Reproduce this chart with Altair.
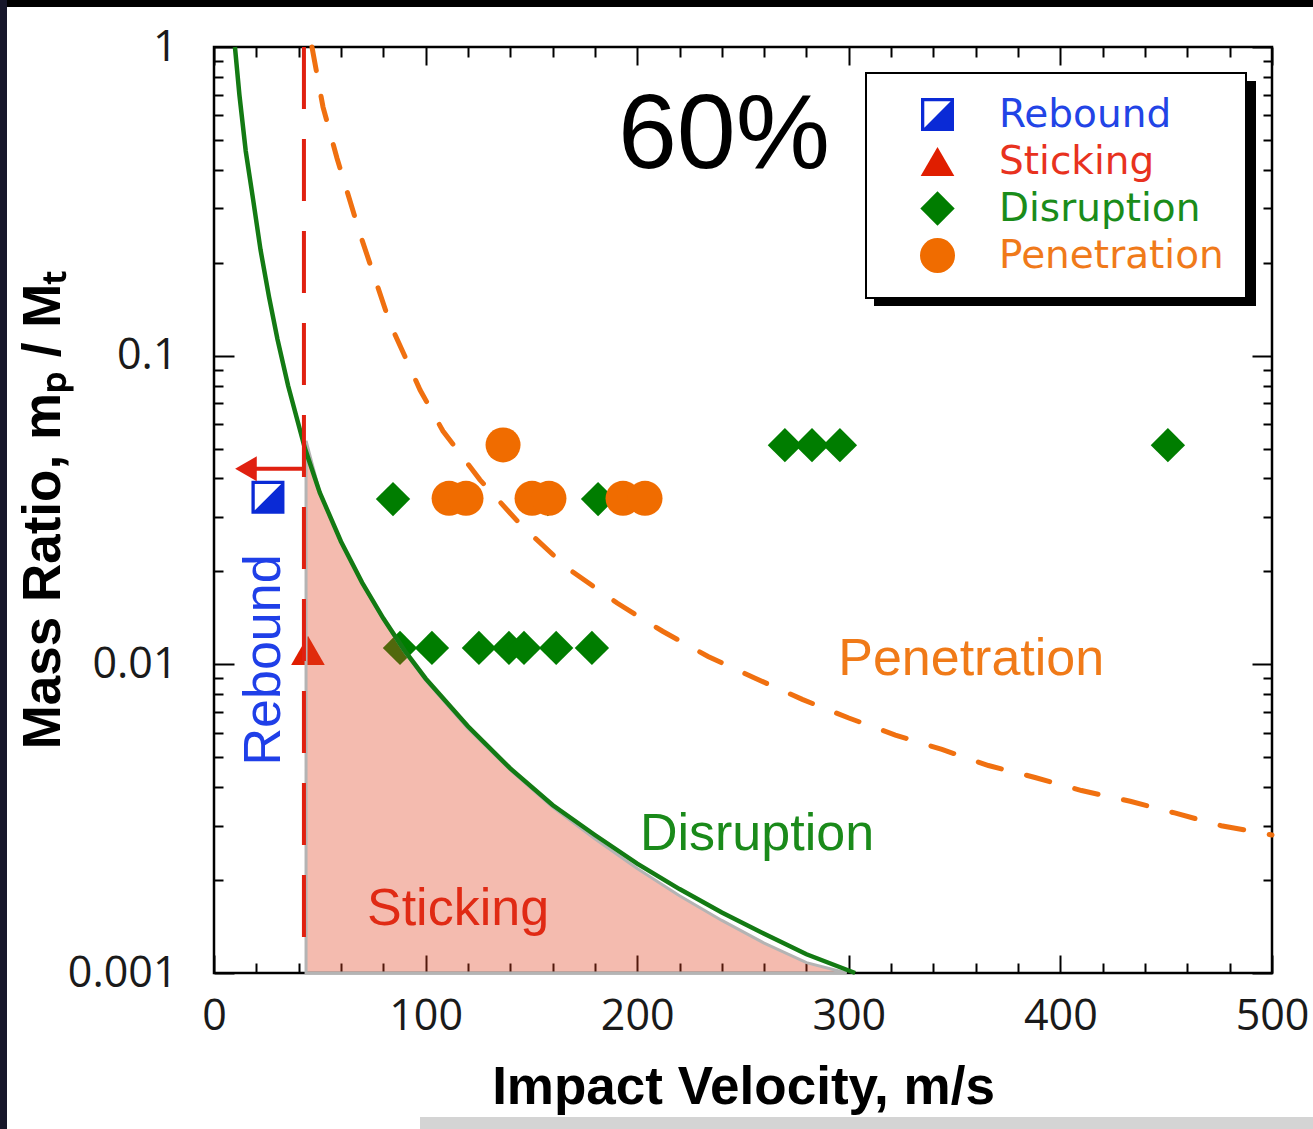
import altair as alt
import pandas as pd

# ---------------- data ----------------
types = ["Rebound", "Sticking", "Disruption", "Penetration"]

rebound_v = [25.5]
rebound_m = [0.0348]
sticking_v = [44.4]
sticking_m = [0.0111]
disruption_v = [87.9, 103.0, 125.2, 139.4, 146.5, 161.7, 178.6,
                84.6, 157.8, 181.5,
                269.8, 282.6, 295.8, 450.8]
disruption_m = [0.0113, 0.0113, 0.0113, 0.0113, 0.0113, 0.0113, 0.0113,
                0.0343, 0.0343, 0.0343,
                0.0513, 0.0513, 0.0513, 0.0513]
penetration_v = [111.1, 119.1, 150.3, 158.3, 193.3, 203.7, 136.6]
penetration_m = [0.0345, 0.0345, 0.0345, 0.0345, 0.0345, 0.0345, 0.0514]

# disruption threshold curve (solid green)
disr_curve_v = [9.9, 12, 15, 18.5, 22, 26, 30, 35, 43, 50, 60, 70, 80, 90, 100,
                120, 140, 160, 180, 200, 220, 240, 260, 280, 303]
disr_curve_m = [1.0, 0.70, 0.46, 0.32, 0.22, 0.155, 0.113, 0.080, 0.050, 0.036,
                0.025, 0.0184, 0.0141, 0.0111, 0.0090, 0.0063, 0.0046, 0.0035,
                0.0028, 0.00226, 0.00187, 0.00157, 0.00134, 0.00115, 0.0010]

# sticking region (shaded)
stick_v = [43.5, 50, 60, 70, 80, 90, 100, 120, 140, 160, 180, 200, 220, 240,
           260, 280, 299]
stick_m = [0.053, 0.036, 0.025, 0.0183, 0.0140, 0.0110, 0.0089, 0.0062, 0.00455,
           0.00345, 0.00272, 0.00218, 0.00178, 0.00148, 0.00125, 0.00108, 0.0010]

# penetration threshold curve (dashed orange)
pen_curve_v = [46.3, 51.5, 58.1, 69.0, 83.2, 97.4, 108.2, 125.7, 145, 167, 190.5,
               212, 233.5, 256, 278, 300, 322, 344, 366, 388, 410, 433, 454, 476, 500]
pen_curve_m = [1.0, 0.64, 0.437, 0.248, 0.127, 0.0774, 0.057, 0.0396, 0.0283, 0.0205,
               0.0158, 0.0128, 0.0106, 0.0090, 0.0077, 0.0067, 0.0059, 0.0053,
               0.0047, 0.0043, 0.0039, 0.0036, 0.0033, 0.0030, 0.0028]

# rebound limit (vertical dashed red) and arrow
rebound_limit_v = [42.5, 42.5]
rebound_limit_m = [1.0, 0.00121]
arrow_v = [42.5]
arrow_v2 = [17.0]
arrow_m = [0.043]
arrow_head_v = [15.1]

x_ticks = [0, 20, 40, 60, 80, 100, 120, 140, 160, 180, 200, 220, 240, 260, 280,
           300, 320, 340, 360, 380, 400, 420, 440, 460, 480, 500]
y_ticks = [0.001, 0.002, 0.003, 0.004, 0.005, 0.006, 0.007, 0.008, 0.009,
           0.01, 0.02, 0.03, 0.04, 0.05, 0.06, 0.07, 0.08, 0.09,
           0.1, 0.2, 0.3, 0.4, 0.5, 0.6, 0.7, 0.8, 0.9, 1]

# ---------------- styling ----------------
marker_colors = ["#0a2ad6", "#e01e00", "#007d00", "#f06c00"]
half_square = ("M -1 -1 L 1 -1 L 1 1 L -1 1 Z "
               "M -0.8 -0.8 L -0.8 0.8 L 0.8 0.8 L 0.8 -0.8 Z "
               "M 0.8 -0.8 L 0.8 0.8 L -0.8 0.8 Z")
marker_shapes = [half_square, "triangle-up", "diamond", "circle"]
marker_sizes = [1089, 1225, 1600, 1200]

W, H = 1058, 926
xscale = alt.Scale(domain=[0, 500], nice=False, zero=False)
yscale = alt.Scale(type="log", domain=[0.001, 1], nice=False)

major_y = "(datum.value == 1 || datum.value == 0.1 || datum.value == 0.01 || datum.value == 0.001)"


def X(axis=None, field="v"):
    return alt.X(f"{field}:Q", scale=xscale, axis=axis)


def Y(axis=None, field="m"):
    return alt.Y(f"{field}:Q", scale=yscale, axis=axis)


# ---------------- tables ----------------
pts = pd.DataFrame({
    "v": rebound_v + sticking_v + disruption_v + penetration_v,
    "m": rebound_m + sticking_m + disruption_m + penetration_m,
    "type": ["Rebound"] * len(rebound_v) + ["Sticking"] * len(sticking_v)
    + ["Disruption"] * len(disruption_v) + ["Penetration"] * len(penetration_v),
})
pts["order"] = range(len(pts))

disr_df = pd.DataFrame({"v": disr_curve_v, "m": disr_curve_m})
stick_df = pd.DataFrame({"v": stick_v, "m": stick_m, "m0": [0.001] * len(stick_v)})
pen_df = pd.DataFrame({"v": pen_curve_v, "m": pen_curve_m})
lim_df = pd.DataFrame({"v": rebound_limit_v, "m": rebound_limit_m})
arrow_df = pd.DataFrame({"v": arrow_v, "v2": arrow_v2, "m": arrow_m})
head_df = pd.DataFrame({"v": arrow_head_v, "m": arrow_m})

x_axis = alt.Axis(
    orient="bottom", values=x_ticks,
    labelExpr="datum.value % 100 === 0 ? format(datum.value, 'd') : ''",
    tickSize={"expr": "datum.value % 100 === 0 ? -18 : -10"},
    labelPadding=40, labelFlush=False, labelOverlap=False,
    title="Impact Velocity, m/s", titleY=130, titleBaseline="alphabetic",
)
y_axis = alt.Axis(
    orient="left", values=y_ticks,
    labelExpr=f"{major_y} ? (datum.value + '') : ''",
    tickSize={"expr": f"{major_y} ? -20 : -9"},
    labelPadding=57, labelFlush=False, labelOverlap=False,
    title="Mass Ratio, m\u209a / M\u209c", titleX=-155, titleBaseline="alphabetic",
)
x_axis_top = alt.Axis(
    orient="top", values=x_ticks, labels=False, title=None,
    tickSize={"expr": "datum.value % 100 === 0 ? -18 : -10"},
)
y_axis_right = alt.Axis(
    orient="right", values=y_ticks, labels=False, title=None,
    tickSize={"expr": f"{major_y} ? -20 : -9"},
)

legend = alt.Legend(
    title=None, orient="none", legendX=652, legendY=26,
    padding=22, symbolOffset=30, labelOffset=42, rowPadding=7, labelLimit=500,
    fillColor="white", strokeColor="black",
    labelFont="DejaVu Sans", labelFontSize=39,
    labelColor={"expr": "datum.label === 'Rebound' ? '#2244e6' : datum.label === 'Sticking' ? '#e8321e' : datum.label === 'Disruption' ? '#1a8c1a' : '#f07a1a'"},
    symbolStrokeWidth=0,
)

# ---------------- layers ----------------
one = pd.DataFrame({"k": [0]})
# screenshot frame decorations (outside the plot area)
top_band = alt.Chart(one).mark_rect(color="black").encode(
    x=alt.value(-214), x2=alt.value(1099), y=alt.value(-47), y2=alt.value(-40))
left_band = alt.Chart(one).mark_rect(color="#17172a").encode(
    x=alt.value(-214), x2=alt.value(-207), y=alt.value(-47), y2=alt.value(1082))
bottom_band = alt.Chart(one).mark_rect(color="#d4d4d4").encode(
    x=alt.value(206), x2=alt.value(1099), y=alt.value(1070), y2=alt.value(1082))

shadow = alt.Chart(one).mark_rect(color="black").encode(
    x=alt.value(660), x2=alt.value(1042), y=alt.value(34), y2=alt.value(259)
)

points = alt.Chart(pts).mark_point(filled=True, opacity=1, strokeWidth=0).encode(
    x=X(x_axis), y=Y(y_axis),
    color=alt.Color("type:N", scale=alt.Scale(domain=types, range=marker_colors), legend=legend),
    shape=alt.Shape("type:N", scale=alt.Scale(domain=types, range=marker_shapes), legend=legend),
    size=alt.Size("type:N", scale=alt.Scale(domain=types, range=marker_sizes), legend=legend),
    order="order:Q",
)

stick_area = alt.Chart(stick_df).mark_area(
    color="#e04322", fillOpacity=0.36, stroke="#b4b4b4", strokeWidth=3, strokeOpacity=1
).encode(x=X(), y=Y(), y2="m0:Q")

disr_line = alt.Chart(disr_df).mark_line(color="#137a13", strokeWidth=4.5).encode(
    x=X(), y=Y(), order="v:Q")

lim_line = alt.Chart(lim_df).mark_line(color="#e02010", strokeWidth=4,
                                       strokeDash=[62, 30]).encode(x=X(), y=Y())

pen_line = alt.Chart(pen_df).mark_line(color="#f07010", strokeWidth=5, strokeDash=[24, 26],
                                       strokeCap="round").encode(x=X(), y=Y(), order="v:Q")

arrow = alt.Chart(arrow_df).mark_rule(color="#e02010", strokeWidth=4).encode(
    x=X(), x2="v2:Q", y=Y())
arrow_head = alt.Chart(head_df).mark_point(shape="triangle-left", filled=True, size=625,
                                            color="#e02010", opacity=1).encode(x=X(), y=Y())


def label(text, v, m, color, size, font="Liberation Sans", align="left", angle=0):
    df = pd.DataFrame({"v": [v], "m": [m], "t": [text]})
    return alt.Chart(df).mark_text(
        font=font, fontSize=size, color=color, align=align, baseline="alphabetic",
        angle=angle,
    ).encode(x=X(), y=Y(), text="t:N")


t60 = label("60%", 241, 0.4055, "black", 106, align="center")
t_pen = label("Penetration", 295, 0.00924, "#f07a18", 52)
t_dis = label("Disruption", 201.3, 0.00251, "#1a8a1a", 52)
t_sti = label("Sticking", 72.3, 0.00143, "#e02a14", 52)
t_reb = label("Rebound", 31.0, 0.01033, "#1f3fe8", 52, align="center", angle=270)

mirror = alt.Chart(disr_df).mark_point(opacity=0).encode(
    x=X(x_axis_top), y=Y(y_axis_right))

chart = alt.layer(
    top_band, left_band, bottom_band,
    shadow, points, stick_area, disr_line, lim_line, pen_line, arrow, arrow_head,
    t60, t_pen, t_dis, t_sti, t_reb, mirror,
).resolve_axis(x="independent", y="independent").properties(
    width=W, height=H,
    padding={"left": 214, "top": 47, "right": 41, "bottom": 156},
    autosize=alt.AutoSizeParams(type="none"),
    background="white",
).configure_view(
    stroke="black", strokeWidth=2.5,
).configure_axis(
    domain=False, grid=False, tickColor="black", tickWidth=2,
    labelFont="Open Sans", labelFontSize=43, labelColor="#1a1a1a",
    titleFont="Liberation Sans", titleFontWeight="bold", titleFontSize=53,
    titleColor="black",
).configure_legend(
    strokeWidth=2,
)

chart.save("out.html", embed_options={"renderer": "svg", "actions": False})
